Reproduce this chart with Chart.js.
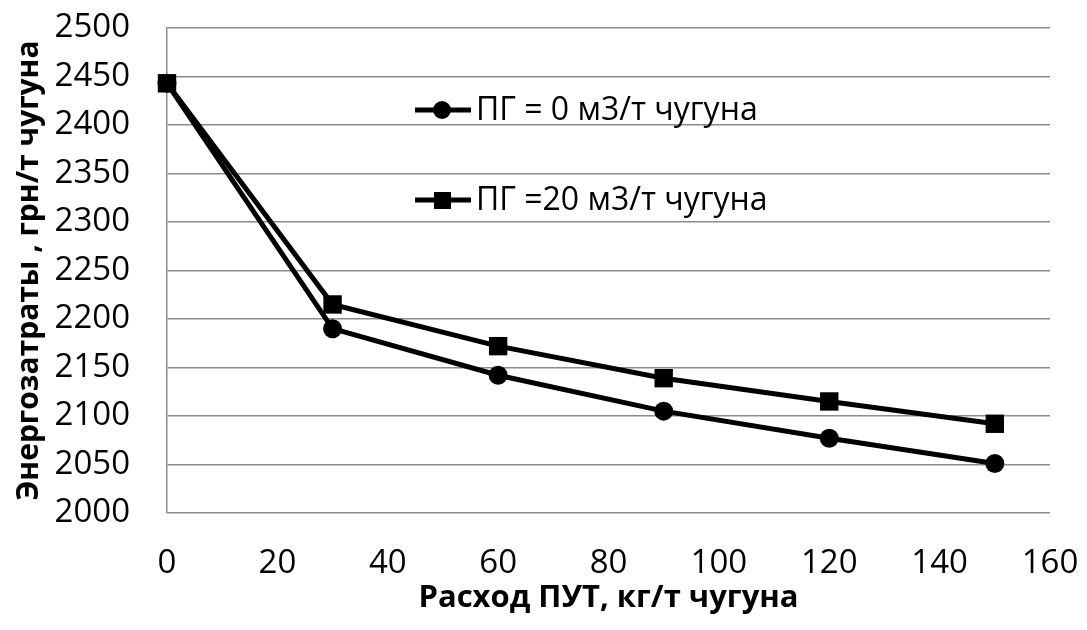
<!DOCTYPE html>
<html>
<head>
<meta charset="utf-8">
<script src="https://cdn.jsdelivr.net/npm/chart.js@4"></script>
<style>
  html, body { margin: 0; padding: 0; background: #fff; }
  #wrap { width: 1087px; height: 630px; }
</style>
</head>
<body>
<div id="wrap"><canvas id="chart" width="1087" height="630"></canvas></div>
<script>
const xValues = [0, 30, 60, 90, 120, 150];
const pg0 = [2443, 2190, 2142, 2105, 2077, 2051];
const pg20 = [2443, 2215, 2172, 2139, 2115, 2092];
const seriesNames = ['ПГ = 0 м3/т чугуна', 'ПГ =20 м3/т чугуна'];
const xTitle = 'Расход ПУТ, кг/т чугуна';
const yTitle = 'Энергозатраты , грн/т чугуна';

const FONT = '"Open Sans", "Noto Sans", sans-serif';
const ctx = document.getElementById('chart').getContext('2d');

// legend sits inside the plot, drawn by hand
const innerLegend = {
    id: 'innerLegend',
    afterDraw(chart) {
        const c = chart.ctx;
        const rows = [110, 200];
        chart.data.datasets.forEach((ds, i) => {
            const y = rows[ds.legendRow];
            c.save();
            c.strokeStyle = '#000';
            c.lineWidth = 5;
            c.beginPath();
            c.moveTo(415, y);
            c.lineTo(471, y);
            c.stroke();
            c.fillStyle = '#000';
            if (ds.pointStyle === 'rect') {
                c.fillRect(434, y - 8, 17, 17);
            } else {
                c.beginPath();
                c.arc(442, y, 9, 0, Math.PI * 2);
                c.fill();
            }
            c.font = '32px ' + FONT;
            c.textBaseline = 'middle';
            c.textAlign = 'left';
            c.fillText(ds.label, 476, y + 1);
            c.restore();
        });
    }
};

new Chart(ctx, {
    type: 'line',
    data: {
        datasets: [{
            label: seriesNames[1],
            data: xValues.map((x, i) => ({ x: x, y: pg20[i] })),
            borderColor: '#000',
            backgroundColor: '#000',
            borderWidth: 5,
            pointStyle: 'rect',
            pointRadius: 13,
            pointBorderWidth: 0,
            order: 0,
            legendRow: 1,
            clip: false
        }, {
            label: seriesNames[0],
            data: xValues.map((x, i) => ({ x: x, y: pg0[i] })),
            borderColor: '#000',
            backgroundColor: '#000',
            borderWidth: 5,
            pointStyle: 'circle',
            pointRadius: 9.5,
            pointBorderWidth: 0,
            order: 1,
            legendRow: 0,
            clip: false
        }]
    },
    options: {
        responsive: false,
        animation: false,
        layout: { padding: { top: 28, right: 37, left: 0, bottom: 0 } },
        plugins: {
            legend: { display: false },
            tooltip: { enabled: false }
        },
        scales: {
            x: {
                type: 'linear',
                min: 0,
                max: 160,
                ticks: { stepSize: 20, color: '#000', font: { family: FONT, size: 33 }, padding: 31, maxRotation: 0 },
                grid: { display: false, drawTicks: false },
                border: { display: false },
                title: { display: true, text: xTitle, color: '#000', font: { family: FONT, size: 31, weight: 'bold' }, padding: { top: 0, bottom: 13 } },
                afterFit(scale) {
                    scale.height = 117;
                    scale.paddingLeft = 0;
                    scale.paddingRight = 0;
                }
            },
            y: {
                min: 2000,
                max: 2500,
                ticks: {
                    stepSize: 50, color: '#000', font: { family: FONT, size: 33 }, padding: 37,
                    callback: v => String(v)
                },
                grid: { color: '#8c8c8c', lineWidth: 1.5, drawTicks: false },
                border: { display: true, color: '#8c8c8c', width: 1.5 },
                title: { display: true, text: yTitle, color: '#000', font: { family: FONT, size: 30, weight: 'bold' }, padding: { top: 11, bottom: 0 } },
                afterFit(scale) {
                    scale.width = 167;
                    scale.paddingTop = 0;
                    scale.paddingBottom = 0;
                }
            }
        }
    },
    plugins: [innerLegend]
});
</script>
</body>
</html>
